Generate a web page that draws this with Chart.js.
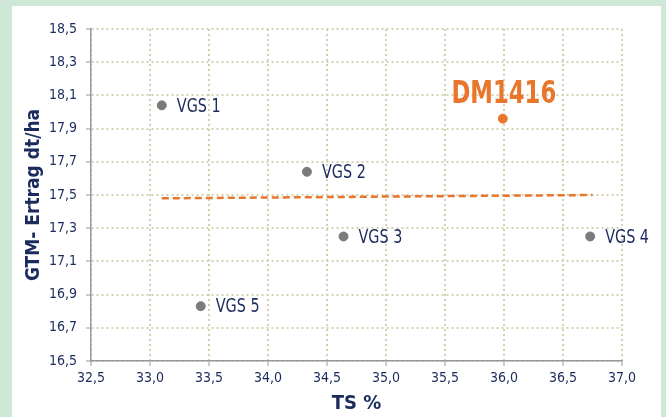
<!DOCTYPE html>
<html>
<head>
<meta charset="utf-8">
<script src="https://cdn.jsdelivr.net/npm/chart.js@4"></script>
<style>
  html, body { margin: 0; padding: 0; }
  body { width: 666px; height: 417px; background: #cfe7d7; position: relative; overflow: hidden; }
  #panel { position: absolute; left: 12px; top: 6px; width: 649px; height: 411px; background: #fff; }
  #wrap { position: absolute; left: 0; top: 0; width: 666px; height: 417px; }
</style>
</head>
<body>
<div id="panel"></div>
<div id="wrap"><canvas id="chart" width="666" height="417"></canvas></div>
<script>
// Werte
const sorten = ['VGS 1', 'VGS 2', 'VGS 3', 'VGS 4', 'VGS 5'];
const tsWerte = [33.10, 34.33, 34.64, 36.73, 33.43];
const ertragWerte = [18.04, 17.64, 17.25, 17.25, 16.83];

const dmName = 'DM1416';
const dmTs = 35.99;
const dmErtrag = 17.96;

// Trendlinie (Endpunkte)
const trendTs = [33.10, 36.75];
const trendErtrag = [17.48, 17.50];

const xMin = 32.5, xMax = 37.0, xStep = 0.5;
const yMin = 16.5, yMax = 18.5, yStep = 0.2;

const navy = '#1c2b5e';
const orange = '#e8762b';
const font = '"Liberation Sans Narrow", "DejaVu Sans Condensed", "Arial Narrow", sans-serif';

// Text schmaler zeichnen (Original ist eine Condensed-Schrift)
function schmalText(ctx, txt, x, y, sx) {
    ctx.save();
    ctx.translate(x, y);
    ctx.scale(sx, 1);
    ctx.fillText(txt, 0, 0);
    ctx.restore();
}

const labelPlugin = {
    id: 'punktLabels',
    afterDatasetsDraw(chart) {
        const ctx = chart.ctx;
        ctx.save();
        const meta = chart.getDatasetMeta(0);
        ctx.font = '20px ' + font;
        ctx.fillStyle = navy;
        ctx.textAlign = 'left';
        ctx.textBaseline = 'middle';
        meta.data.forEach((p, i) => {
            schmalText(ctx, sorten[i], p.x + 15, p.y + 1, 0.8);
        });
        const dm = chart.getDatasetMeta(1).data[0];
        ctx.font = 'bold 32px ' + font;
        ctx.fillStyle = orange;
        ctx.textAlign = 'center';
        ctx.textBaseline = 'alphabetic';
        schmalText(ctx, dmName, dm.x + 1, dm.y - 16, 0.79);
        ctx.restore();
    }
};

const fmt = v => v.toFixed(1).replace('.', ',');

new Chart(document.getElementById('chart'), {
    type: 'scatter',
    data: {
        datasets: [
            {
                data: tsWerte.map((x, i) => ({ x, y: ertragWerte[i] })),
                backgroundColor: '#7b7b7b',
                borderColor: '#7b7b7b',
                pointRadius: 4.5,
                pointHoverRadius: 4.5
            },
            {
                data: [{ x: dmTs, y: dmErtrag }],
                backgroundColor: orange,
                borderColor: orange,
                pointRadius: 4.5,
                pointHoverRadius: 4.5
            },
            {
                type: 'line',
                data: trendTs.map((x, i) => ({ x, y: trendErtrag[i] })),
                borderColor: orange,
                borderWidth: 2.5,
                borderDash: [7, 4],
                pointRadius: 0,
                fill: false
            }
        ]
    },
    options: {
        responsive: false,
        animation: false,
        events: [],
        layout: { padding: { left: 0, top: 29, right: 44, bottom: 0 } },
        plugins: {
            legend: { display: false },
            tooltip: { enabled: false }
        },
        scales: {
            x: {
                type: 'linear',
                min: xMin, max: xMax,
                afterFit: s => { s.height = 56; },
                ticks: {
                    stepSize: xStep,
                    callback: v => fmt(v),
                    color: navy,
                    font: { family: font, size: 14 },
                    padding: 4,
                    maxRotation: 0
                },
                grid: {
                    color: '#d5d1b2',
                    lineWidth: 2,
                    tickColor: '#999',
                    tickLength: 5,
                    tickWidth: 1
                },
                border: { color: '#999', width: 1.5, dash: [2, 3] },
                title: {
                    display: true,
                    text: 'TS %',
                    color: navy,
                    font: { family: font, size: 20, weight: 'bold' },
                    padding: { top: 0, bottom: 1 }
                }
            },
            y: {
                type: 'linear',
                min: yMin, max: yMax,
                afterFit: s => { s.width = 91; },
                ticks: {
                    stepSize: yStep,
                    callback: v => fmt(v),
                    color: navy,
                    font: { family: font, size: 14 },
                    padding: 9
                },
                grid: {
                    color: '#d5d1b2',
                    lineWidth: 2,
                    tickColor: '#999',
                    tickLength: 5,
                    tickWidth: 1
                },
                border: { color: '#999', width: 1.5, dash: [2, 3] },
                title: {
                    display: true,
                    text: 'GTM- Ertrag dt/ha',
                    color: navy,
                    font: { family: font, size: 19, weight: 'bold' },
                    padding: { top: 23, bottom: 0 }
                }
            }
        }
    },
    plugins: [labelPlugin]
});
</script>
</body>
</html>
